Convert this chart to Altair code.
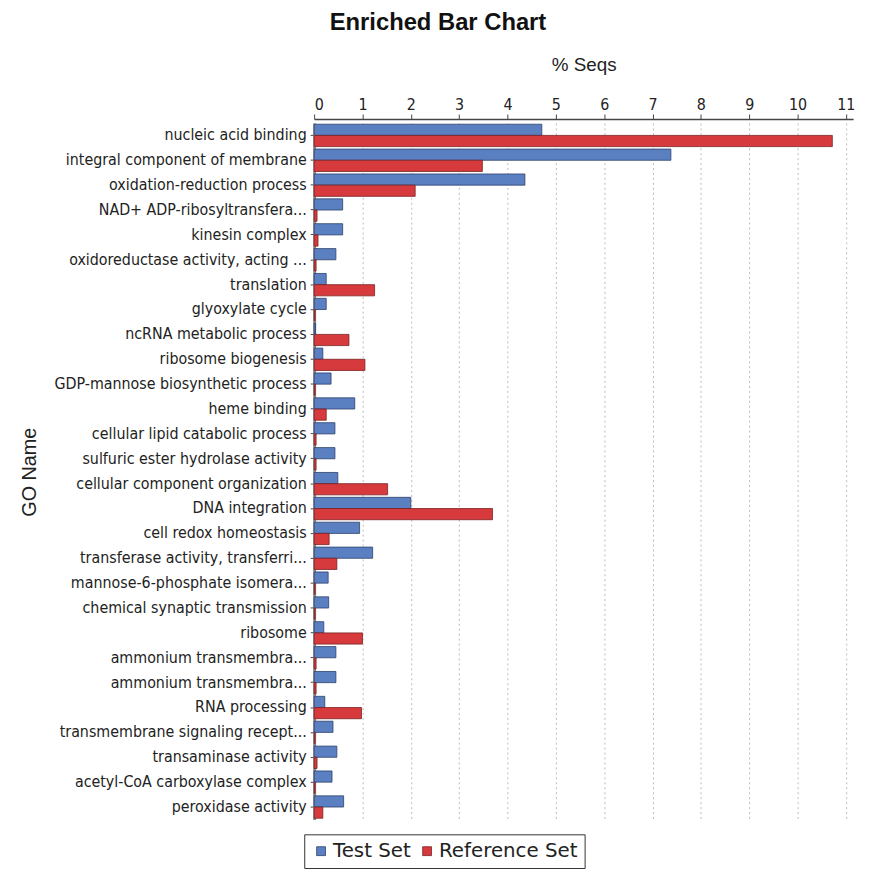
import altair as alt
import pandas as pd

categories = [
    "nucleic acid binding",
    "integral component of membrane",
    "oxidation-reduction process",
    "NAD+ ADP-ribosyltransfera...",
    "kinesin complex",
    "oxidoreductase activity, acting ...",
    "translation",
    "glyoxylate cycle",
    "ncRNA metabolic process",
    "ribosome biogenesis",
    "GDP-mannose biosynthetic process",
    "heme binding",
    "cellular lipid catabolic process",
    "sulfuric ester hydrolase activity",
    "cellular component organization",
    "DNA integration",
    "cell redox homeostasis",
    "transferase activity, transferri...",
    "mannose-6-phosphate isomera...",
    "chemical synaptic transmission",
    "ribosome",
    "ammonium transmembra...",
    "ammonium transmembra... ",
    "RNA processing",
    "transmembrane signaling recept...",
    "transaminase activity",
    "acetyl-CoA carboxylase complex",
    "peroxidase activity",
]
test_set = [4.71, 7.38, 4.36, 0.59, 0.59, 0.45, 0.25, 0.25, 0.03, 0.18,
            0.35, 0.84, 0.43, 0.43, 0.49, 2.0, 0.94, 1.21, 0.29, 0.3,
            0.2, 0.45, 0.45, 0.22, 0.39, 0.47, 0.37, 0.61]
reference_set = [10.72, 3.48, 2.09, 0.06, 0.08, 0.04, 1.25, 0.02, 0.72, 1.05,
                 0.02, 0.25, 0.04, 0.04, 1.52, 3.69, 0.31, 0.47, 0.02, 0.02,
                 1.0, 0.04, 0.04, 0.98, 0.02, 0.06, 0.02, 0.18]
series = ["Test Set", "Reference Set"]

rows = []
for c, t, r in zip(categories, test_set, reference_set):
    rows.append({"GO": c, "Set": series[0], "Seqs": t})
    rows.append({"GO": c, "Set": series[1], "Seqs": r})
df = pd.DataFrame(rows)

FONT = "Liberation Sans Narrow, DejaVu Sans Condensed, sans-serif"

chart = alt.Chart(df).mark_bar(strokeWidth=0.8).encode(
    x=alt.X(
        "Seqs:Q",
        scale=alt.Scale(domain=[0, 11.15], nice=False, zero=True),
        axis=alt.Axis(
            orient="top", values=list(range(12)), format="d",
            title="% Seqs", titleFont="Liberation Sans", titleFontSize=19,
            titleFontWeight="normal", titleColor="#222", titlePadding=22,
            labelFont=FONT, labelFontSize=16, labelColor="#222",
            domainColor="#444", domainWidth=1.5, tickColor="#444", tickSize=5,
            offset=4, grid=True, gridDash=[2, 3], gridColor="#bbbbbb",
        ),
    ),
    y=alt.Y(
        "GO:N", sort=categories,
        scale=alt.Scale(paddingInner=0.1, paddingOuter=0.05),
        axis=alt.Axis(
            title="GO Name", titleFont="Liberation Sans", titleFontSize=20,
            titleFontWeight="normal", titleColor="#222",
            titleX=-287, titleY=352, titleAngle=-90, titleAlign="center",
            titleBaseline="middle",
            labelFont=FONT, labelFontSize=16, labelColor="#222", labelPadding=4,
            labelLimit=400,
            domainColor="#888", domainWidth=3, tickColor="#444", tickSize=4,
            grid=False,
        ),
    ),
    yOffset=alt.YOffset("Set:N", sort=series),
    color=alt.Color(
        "Set:N", sort=series,
        scale=alt.Scale(domain=series, range=["#5b80c2", "#d63a3c"]),
        legend=alt.Legend(
            title=None, orient="none", legendX=-10, legendY=718,
            direction="horizontal", strokeColor="#333", padding=7,
            symbolType="square", symbolSize=80, symbolStrokeWidth=0.8,
            labelFont="DejaVu Sans", labelFontSize=20, labelColor="#222",
            columnPadding=6, labelOffset=2,
        ),
    ),
    stroke=alt.Stroke(
        "Set:N", sort=series,
        scale=alt.Scale(domain=series, range=["#2c3f6a", "#7a2022"]),
        legend=None,
    ),
).properties(
    width=544,
    height=703,
    title=alt.TitleParams(
        "Enriched Bar Chart", font="Liberation Sans", fontSize=24,
        fontWeight="bold", color="#111", anchor="middle", dx=-147, offset=21,
    ),
    autosize=alt.AutoSizeParams(type="none"),
    padding={"left": 309, "top": 112, "right": 12, "bottom": 50},
).configure_view(stroke=None)

chart.save("out.html", embed_options={"renderer": "svg", "actions": False})
